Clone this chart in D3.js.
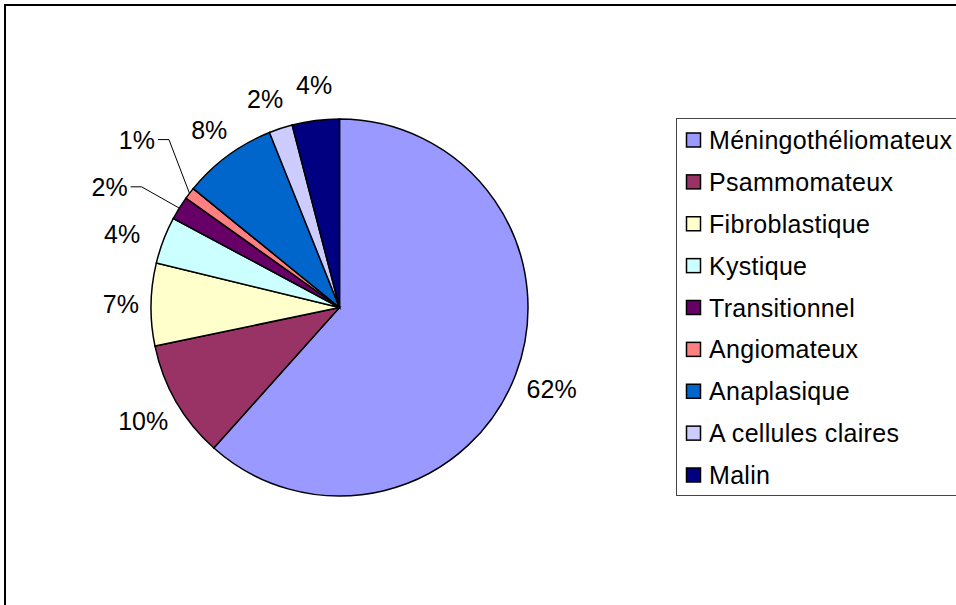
<!DOCTYPE html>
<html>
<head>
<meta charset="utf-8">
<script src="https://cdn.jsdelivr.net/npm/d3@7"></script>
<style>
  body { margin: 0; background: #fff; }
  svg { display: block; }
  text { font-family: "Liberation Sans", Arial, sans-serif; fill: #000; }
</style>
</head>
<body>
<svg id="chart"></svg>
<script>
// data
const categories = ["Méningothéliomateux", "Psammomateux", "Fibroblastique", "Kystique",
  "Transitionnel", "Angiomateux", "Anaplasique", "A cellules claires", "Malin"]
const counts = [61, 10, 7, 4, 2, 1, 8, 2, 4]
const colors = ["#9999FF", "#993366", "#FFFFCC", "#CCFFFF", "#660066",
  "#FF8080", "#0066CC", "#CCCCFF", "#000080"]

const W = 956
const H = 605
const fontSize = 25

const svg = d3.select("#chart")
  .attr("width", W)
  .attr("height", H)

// outer chart frame (right and bottom edges are cut off)
svg.append("path")
  .attr("d", `M5,${H} V5 H${W}`)
  .attr("fill", "none")
  .attr("stroke", "#000")
  .attr("stroke-width", 2)

// pie
const cx = 339.5
const cy = 307.5
const r = 188.5
const total = d3.sum(counts)

const pie = d3.pie().sort(null).value(d => d)
const arcs = pie(counts)
const arc = d3.arc().innerRadius(0).outerRadius(r)

const g = svg.append("g").attr("transform", `translate(${cx},${cy})`)

g.selectAll("path.slice")
  .data(arcs)
  .join("path")
  .attr("class", "slice")
  .attr("d", arc)
  .attr("fill", (d, i) => colors[i])
  .attr("stroke", "#000")
  .attr("stroke-width", 1.5)

// data labels: start just outside the pie, then spread crowded ones apart
const labels = g.selectAll("text.lbl")
  .data(arcs)
  .join("text")
  .attr("class", "lbl")
  .attr("text-anchor", "middle")
  .style("font-size", fontSize + "px")
  .text(d => Math.round(d.value / total * 100) + "%")

const info = []
labels.each(function (d) {
  info.push({
    ang: (d.startAngle + d.endAngle) / 2,
    w: this.getBBox().width,
    h: fontSize * 0.72,
    push: 0
  })
})

const boxOf = o => {
  const s = Math.sin(o.ang)
  const c = -Math.cos(o.ang)
  const dist = r + 12 + Math.abs(s) * o.w / 2 + Math.abs(c) * o.h / 2 + o.push
  return { x: s * dist - o.w / 2, y: c * dist - o.h / 2, w: o.w, h: o.h, cx: s * dist, cy: c * dist }
}
const collide = (a, b) => {
  const gx = Math.max(a.x - (b.x + b.w), b.x - (a.x + a.w))
  const gy = Math.max(a.y - (b.y + b.h), b.y - (a.y + a.h))
  return gx < 12 && gy < 28
}

const step = Math.PI / 720
for (let it = 0; it < 400; it++) {
  let moved = false
  for (let i = 0; i < info.length - 1; i++) {
    const a = info[i]
    const b = info[i + 1]
    if (collide(boxOf(a), boxOf(b))) {
      a.ang -= step
      b.ang += step * 0.5
      a.push += 1
      b.push += 2
      moved = true
    }
  }
  if (!moved) break
}

const leaderLayer = g.append("g")

labels.each(function (d, i) {
  const box = boxOf(info[i])
  d3.select(this)
    .attr("x", box.cx)
    .attr("y", box.cy + box.h / 2)

  // leader line when the label sits far from its slice
  const a = (d.startAngle + d.endAngle) / 2
  const ex = Math.sin(a) * r
  const ey = -Math.cos(a) * r
  const dx = Math.max(box.x - ex, 0, ex - (box.x + box.w))
  const dy = Math.max(box.y - ey, 0, ey - (box.y + box.h))
  if (Math.hypot(dx, dy) > 28) {
    const side = ex < box.cx ? -1 : 1
    const sx = side > 0 ? box.x + box.w + 3 : box.x - 3
    leaderLayer.append("polyline")
      .attr("points", `${sx},${box.cy} ${sx + side * 11},${box.cy} ${ex},${ey}`)
      .attr("fill", "none")
      .attr("stroke", "#000")
      .attr("stroke-width", 1)
  }
})

// legend
const legendY = d3.scalePoint()
  .domain(categories)
  .range([140, 475])

const legend = svg.append("g")

legend.append("rect")
  .attr("x", 676.5)
  .attr("y", 118.5)
  .attr("width", 320)
  .attr("height", 377)
  .attr("fill", "#fff")
  .attr("stroke", "#444")
  .attr("stroke-width", 1)

const items = legend.selectAll("g.item")
  .data(categories)
  .join("g")
  .attr("class", "item")
  .attr("transform", d => `translate(0,${legendY(d)})`)

items.append("rect")
  .attr("x", 686.5)
  .attr("y", -7)
  .attr("width", 14)
  .attr("height", 14)
  .attr("fill", (d, i) => colors[i])
  .attr("stroke", "#000")
  .attr("stroke-width", 1.5)

items.append("text")
  .attr("x", 709)
  .attr("y", 9)
  .style("font-size", fontSize + "px")
  .style("letter-spacing", "0.3px")
  .text(d => d)
</script>
</body>
</html>
